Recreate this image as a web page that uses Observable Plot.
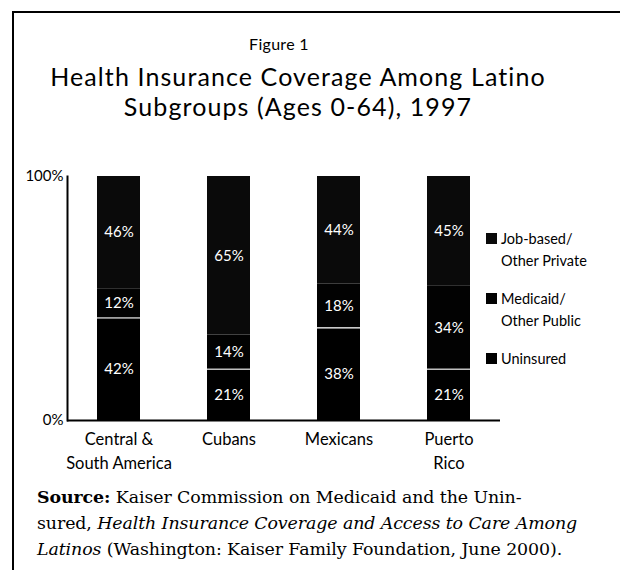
<!DOCTYPE html>
<html><head><meta charset="utf-8">
<script src="https://cdn.jsdelivr.net/npm/d3@7"></script>
<script src="https://cdn.jsdelivr.net/npm/@observablehq/plot@0.6"></script>
<style>
body{margin:0;background:#fff;}
#wrap{position:relative;width:620px;height:570px;overflow:hidden;background:#fff;font-family:Lato,"Open Sans",sans-serif;color:#000;}
#frame{position:absolute;left:12px;top:11px;width:640px;height:600px;border-top:2px solid #000;border-left:2px solid #000;}
#fig{position:absolute;left:0;width:558px;top:34px;text-align:center;font-size:16px;letter-spacing:0.3px;}
#title{position:absolute;left:0;width:596px;top:61px;text-align:center;font-size:25px;line-height:30px;letter-spacing:1.1px;}
#chart{position:absolute;left:0;top:150px;}
#legend{position:absolute;left:486px;top:228px;font-size:14.5px;line-height:22px;}
.li{position:relative;padding-left:15px;margin-bottom:16px;}
.sw{position:absolute;left:0;top:5px;width:11px;height:11px;}
#source{position:absolute;left:37px;top:484px;width:590px;font-family:"DejaVu Serif",serif;font-size:17.4px;line-height:26px;letter-spacing:-0.1px;}
</style></head>
<body><div id="wrap">
<div id="frame"></div>
<div id="fig">Figure 1</div>
<div id="title">Health Insurance Coverage Among Latino<br>Subgroups (Ages 0-64), 1997</div>
<div id="chart"></div>
<div id="legend"></div>
<div id="source"><b>Source:</b> Kaiser Commission on Medicaid and the Unin-<br>sured, <i>Health Insurance Coverage and Access to Care Among</i><br><i>Latinos</i> (Washington: Kaiser Family Foundation, June 2000).</div>
</div>
<script>
const categories = ["Central & South America", "Cubans", "Mexicans", "Puerto Rico"];
const tickLabels = ["Central &\nSouth America", "Cubans", "Mexicans", "Puerto\nRico"];
const series = ["Uninsured", "Medicaid/Other Public", "Job-based/Other Private"];
const legendLabels = ["Uninsured", "Medicaid/\nOther Public", "Job-based/\nOther Private"];
const seriesColors = ["#000000", "#020202", "#0a0a0a"];
const uninsured = [42, 21, 38, 21];
const medicaid = [12, 14, 18, 34];
const jobBased = [46, 65, 44, 45];
const yTicks = [0, 100];

const valuesBySeries = [uninsured, medicaid, jobBased];
const rows = [];
categories.forEach((c, i) => {
  series.forEach((s, j) => rows.push({cat: c, series: s, value: valuesBySeries[j][i]}));
});
const uninsRows = rows.filter(d => d.series === series[0]);

const chart = Plot.plot({
  width: 620,
  height: 330,
  marginLeft: 67,
  marginRight: 120,
  marginTop: 26,
  marginBottom: 60,
  style: {fontFamily: "Lato, 'Open Sans', sans-serif", fontSize: "15px", color: "#000", background: "transparent"},
  x: {domain: categories, paddingInner: 0.61, paddingOuter: 0.27, label: null},
  y: {domain: [0, 100], label: null},
  color: {domain: series, range: seriesColors},
  marks: [
    Plot.barY(rows, {x: "cat", y: "value", fill: "series", order: series}),
    Plot.tickY(uninsRows, {x: "cat", y: "value", stroke: "white", strokeWidth: 1.2}),
    Plot.text(rows, Plot.stackY({x: "cat", y: "value", z: "series", order: series, text: d => d.value + "%", fill: "white", fontSize: 15})),
    Plot.ruleY([0], {stroke: "#000", strokeWidth: 2}),
    Plot.frame({anchor: "left", stroke: "#000", strokeWidth: 2}),
    Plot.axisY({ticks: yTicks, tickFormat: d => d + "%", tickSize: 0, tickPadding: 4, fontSize: 15, label: null}),
    Plot.axisX({tickFormat: d => tickLabels[categories.indexOf(d)], tickSize: 0, tickPadding: 8, lineHeight: 1.45, fontSize: 16.5, label: null})
  ]
});
document.getElementById("chart").appendChild(chart);

const leg = document.getElementById("legend");
[2, 1, 0].forEach(j => {
  const item = document.createElement("div");
  item.className = "li";
  const sw = document.createElement("div");
  sw.className = "sw";
  sw.style.background = seriesColors[j];
  item.appendChild(sw);
  legendLabels[j].split("\n").forEach((t, k) => {
    const line = document.createElement("div");
    line.textContent = t;
    item.appendChild(line);
  });
  leg.appendChild(item);
});
</script>
</body></html>
